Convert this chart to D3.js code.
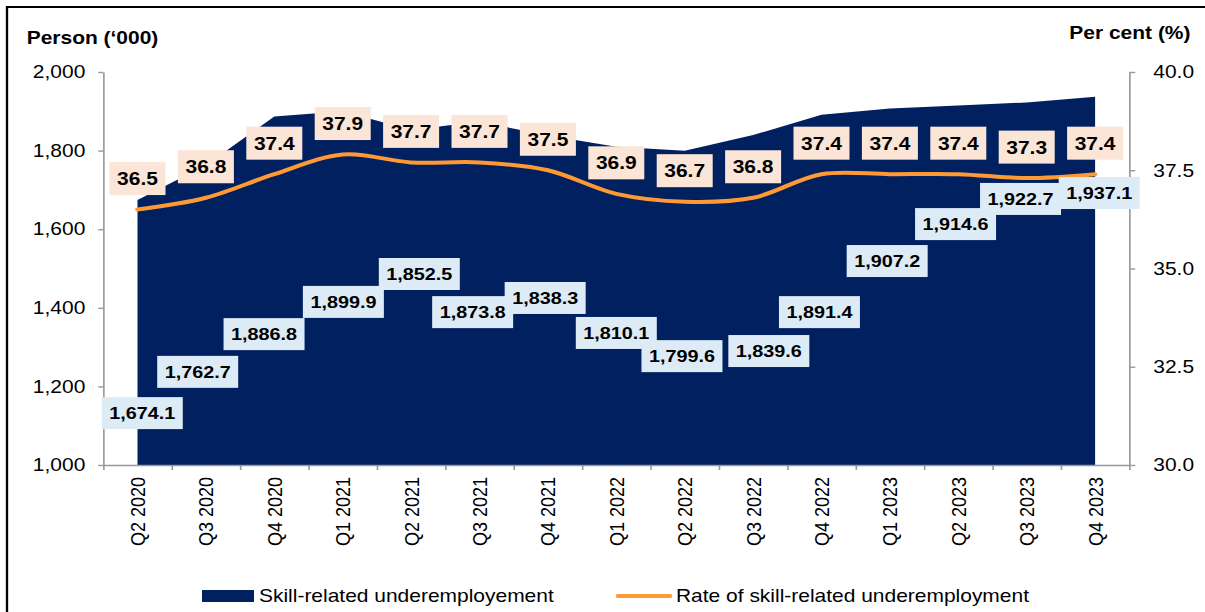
<!DOCTYPE html>
<html>
<head>
<meta charset="utf-8">
<script src="https://cdn.jsdelivr.net/npm/d3@7.9.0/dist/d3.min.js"></script>
<style>
  html, body { margin: 0; padding: 0; background: #fff; }
  svg { display: block; font-family: Arial, "Liberation Sans", sans-serif; }
</style>
</head>
<body>
<svg id="chart"></svg>
<script>
/* ---- data ---- */
const quarters = ["Q2 2020", "Q3 2020", "Q4 2020", "Q1 2021", "Q2 2021", "Q3 2021", "Q4 2021",
  "Q1 2022", "Q2 2022", "Q3 2022", "Q4 2022", "Q1 2023", "Q2 2023", "Q3 2023", "Q4 2023"];
const underemployed = [1674.1, 1762.7, 1886.8, 1899.9, 1852.5, 1873.8, 1838.3,
  1810.1, 1799.6, 1839.6, 1891.4, 1907.2, 1914.6, 1922.7, 1937.1];
const rate = [36.5, 36.8, 37.4, 37.9, 37.7, 37.7, 37.5, 36.9, 36.7, 36.8, 37.4, 37.4, 37.4, 37.3, 37.4];
const leftTicks = [1000, 1200, 1400, 1600, 1800, 2000];
const rightTicks = [30, 32.5, 35, 37.5, 40];

// where the (hand-placed) value labels sit: level in '000 on the left axis, shift in bands
const labelLevel = [1132, 1237, 1333, 1415, 1486, 1389, 1425, 1336, 1277, 1290, 1389, 1519, 1613, 1677, 1692];
const labelShift = [0.07, -0.12, -0.15, 0.01, 0.12, -0.10, -0.04, 0, -0.04, 0.23, -0.03, -0.04, -0.04, -0.09, 0.06];

/* ---- layout ----
   the picture is stretched sideways, so draw in narrower units and let the viewBox widen it */
const SX = 1.165;
const px = (v) => v / SX;
const W = 1205, H = 612;

const navy = "#002060";
const orange = "#FF9933";
const axisGrey = "#999";

const plot = { left: px(103.3), right: px(1129.3), top: 72, bottom: 465 };

const svg = d3.select("#chart")
  .attr("width", W)
  .attr("height", H)
  .attr("viewBox", `0 0 ${px(W)} ${H}`)
  .attr("preserveAspectRatio", "none");

// frame
svg.append("rect")
  .attr("x", px(7)).attr("y", 7)
  .attr("width", px(W + 20)).attr("height", H + 20)
  .attr("fill", "none").attr("stroke", "#000").attr("stroke-width", 2);

/* ---- scales ---- */
const x = d3.scaleBand().domain(quarters).range([plot.left, plot.right]);
const cx = (q) => x(q) + x.bandwidth() / 2;
const y = d3.scaleLinear().domain([1000, 2000]).range([plot.bottom, plot.top]);
const yR = d3.scaleLinear().domain([30, 40]).range([plot.bottom, plot.top]);
const edges = d3.scaleLinear().domain([0, quarters.length]).range([plot.left, plot.right]);

/* ---- area ---- */
const area = d3.area()
  .x((d, i) => cx(quarters[i]))
  .y0(y(1000))
  .y1((d) => y(d));

svg.append("path")
  .datum(underemployed)
  .attr("d", area)
  .attr("fill", navy);

/* ---- rate line ---- */
const line = d3.line()
  .x((d, i) => cx(quarters[i]))
  .y((d) => yR(d))
  .curve(d3.curveCatmullRom);

svg.append("path")
  .datum(rate)
  .attr("d", line)
  .attr("fill", "none")
  .attr("stroke", orange)
  .attr("stroke-width", 4)
  .attr("stroke-linecap", "round");

/* ---- axes ---- */
function styleAxis(g) {
  g.selectAll("path, line").attr("stroke", axisGrey).attr("stroke-width", 1.4);
  g.selectAll("text").attr("fill", "#000").attr("font-size", 18).attr("font-family", null);
}

svg.append("g")
  .attr("transform", `translate(${plot.left},0)`)
  .call(d3.axisLeft(y).tickValues(leftTicks).tickFormat(d3.format(","))
    .tickSize(px(5)).tickSizeOuter(0).tickPadding(px(13)))
  .call(styleAxis);

svg.append("g")
  .attr("transform", `translate(${plot.right},0)`)
  .call(d3.axisRight(yR).tickValues(rightTicks).tickFormat(d3.format(".1f"))
    .tickSize(px(6)).tickSizeOuter(0).tickPadding(px(18)))
  .call(styleAxis);

// boundary ticks between quarters
svg.append("g")
  .attr("transform", `translate(0,${plot.bottom})`)
  .call(d3.axisBottom(edges).tickValues(d3.range(quarters.length + 1)).tickFormat("")
    .tickSize(5).tickSizeOuter(0))
  .call(styleAxis);

// quarter labels
svg.append("g")
  .attr("transform", `translate(0,${plot.bottom})`)
  .call(d3.axisBottom(x).tickSize(0))
  .call(styleAxis)
  .call((g) => g.select(".domain").remove())
  .selectAll("text")
  .attr("transform", "rotate(-90)")
  .attr("text-anchor", "end")
  .attr("x", -12)
  .attr("y", 0)
  .attr("dy", "0.36em");

/* ---- axis titles ---- */
svg.append("text")
  .attr("x", px(26.7)).attr("y", 44)
  .attr("font-size", 18).attr("font-weight", "bold")
  .text("Person (‘000)");

svg.append("text")
  .attr("x", px(1190.5)).attr("y", 39)
  .attr("text-anchor", "end")
  .attr("font-size", 18).attr("font-weight", "bold")
  .text("Per cent (%)");

/* ---- value labels ---- */
const rateLabels = svg.append("g")
  .selectAll("g")
  .data(rate)
  .join("g")
  .attr("transform", (d, i) => `translate(${cx(quarters[i])},${yR(d) - 31})`);

rateLabels.append("rect")
  .attr("x", -px(28)).attr("y", -16.5)
  .attr("width", px(56)).attr("height", 33)
  .attr("fill", "#FBE5D6");

rateLabels.append("text")
  .attr("text-anchor", "middle")
  .attr("dy", "0.36em")
  .attr("font-size", 18).attr("font-weight", "bold")
  .text((d) => d3.format(".1f")(d));

const fmtK = d3.format(",.1f");
const areaLabels = svg.append("g")
  .selectAll("g")
  .data(underemployed)
  .join("g")
  .attr("transform", (d, i) =>
    `translate(${cx(quarters[i]) + labelShift[i] * x.bandwidth()},${y(labelLevel[i])})`);

areaLabels.append("rect")
  .attr("x", -px(40.5)).attr("y", -16)
  .attr("width", px(81)).attr("height", 32)
  .attr("fill", "#DDEBF7");

areaLabels.append("text")
  .attr("text-anchor", "middle")
  .attr("dy", "0.36em")
  .attr("font-size", 17).attr("font-weight", "bold")
  .text((d) => fmtK(d));

/* ---- legend ---- */
const legend = svg.append("g").attr("font-size", 18);

legend.append("rect")
  .attr("x", px(202)).attr("y", 590)
  .attr("width", px(52)).attr("height", 12)
  .attr("fill", navy);

legend.append("text")
  .attr("x", px(259)).attr("y", 596)
  .attr("dy", "0.36em")
  .text("Skill-related underemployement");

legend.append("line")
  .attr("x1", px(618)).attr("x2", px(670))
  .attr("y1", 596).attr("y2", 596)
  .attr("stroke", orange).attr("stroke-width", 4)
  .attr("stroke-linecap", "round");

legend.append("text")
  .attr("x", px(676)).attr("y", 596)
  .attr("dy", "0.36em")
  .text("Rate of skill-related underemployment");
</script>
</body>
</html>
